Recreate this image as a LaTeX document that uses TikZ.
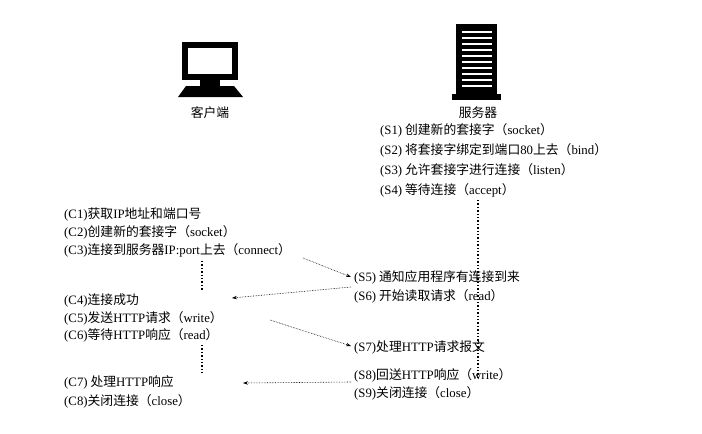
\documentclass[tikz,border=0pt]{standalone}
\usepackage{fontspec}
\setmainfont{Liberation Serif}
\newfontfamily\cjk{Noto Sans CJK SC}
\newcommand\zh[1]{{\cjk #1}}
\usetikzlibrary{arrows.meta}
\begin{document}
\begin{tikzpicture}[x=1pt,y=-1pt,
  lbl/.style={anchor=west,inner sep=0pt,font=\fontsize{12.8}{14}\selectfont},
  flow/.style={densely dotted,semithick,-{Stealth[length=5pt,width=3.5pt]}},
  life/.style={dotted,line width=1.4pt}]
\useasboundingbox[fill=white] (0,0) rectangle (702,434);
% computer icon
\fill (182,42) rectangle (238,80);
\fill[white] (188,48) rectangle (232,74);
\fill (200,80) rectangle (220,86);
\fill (186,86) -- (234,86) -- (243,97) -- (178,97) -- cycle;
\node[inner sep=0pt,font=\cjk\fontsize{12.8}{14}\selectfont] (client) at (210,113) {客户端};
% server icon
\fill (456,24) rectangle (497,94);
\fill (452,94) rectangle (501,100);
\foreach \y in {32,38,...,86} \draw[white,line width=1.2pt] (462,\y) -- (492,\y);
\node[inner sep=0pt,font=\cjk\fontsize{12.8}{14}\selectfont] (server) at (478,113) {服务器};
% server lifeline (drawn under texts)
\coordinate (sa) at (478,200); \coordinate (sb) at (478,380);
\draw[life] (sa) -- (sb);
% server text
\node[lbl] (s1) at (380,130) {(S1)\zh{ 创建新的套接字（}socket\zh{）}};
\node[lbl] (s2) at (380,150) {(S2)\zh{ 将套接字绑定到端口}80\zh{上去（}bind\zh{）}};
\node[lbl] (s3) at (380,170) {(S3)\zh{ 允许套接字进行连接（}listen\zh{）}};
\node[lbl] (s4) at (380,190) {(S4)\zh{ 等待连接（}accept\zh{）}};
\node[lbl] (s5) at (354,277) {(S5)\zh{ 通知应用程序有连接到来}};
\node[lbl] (s6) at (354,296) {(S6)\zh{ 开始读取请求（}read\zh{）}};
\node[lbl] (s7) at (354,347) {(S7)\zh{处理}HTTP\zh{请求报文}};
\node[lbl] (s8) at (354,375) {(S8)\zh{回送}HTTP\zh{响应（}write\zh{）}};
\node[lbl] (s9) at (354,393) {(S9)\zh{关闭连接（}close\zh{）}};
% client text
\node[lbl] (c1) at (64,214) {(C1)\zh{获取}IP\zh{地址和端口号}};
\node[lbl] (c2) at (64,232) {(C2)\zh{创建新的套接字（}socket\zh{）}};
\node[lbl] (c3) at (64,250) {(C3)\zh{连接到服务器}IP:port\zh{上去（}connect\zh{）}};
\node[lbl] (c4) at (64,300) {(C4)\zh{连接成功}};
\node[lbl] (c5) at (64,318) {(C5)\zh{发送}HTTP\zh{请求（}write\zh{）}};
\node[lbl] (c6) at (64,335) {(C6)\zh{等待}HTTP\zh{响应（}read\zh{）}};
\node[lbl] (c7) at (64,382) {(C7)\zh{ 处理}HTTP\zh{响应}};
\node[lbl] (c8) at (64,401) {(C8)\zh{关闭连接（}close\zh{）}};
% client lifelines
\coordinate (ca) at (202,261); \coordinate (cb) at (202,290);
\coordinate (cc) at (202,345); \coordinate (cd) at (202,373);
\draw[life] (ca) -- (cb); \draw[life] (cc) -- (cd);
% messages
\coordinate (m1a) at (303,258); \coordinate (m1b) at (351,277);
\coordinate (m2a) at (351,287); \coordinate (m2b) at (232,298);
\coordinate (m3a) at (270,320); \coordinate (m3b) at (351,346);
\coordinate (m4a) at (351,382); \coordinate (m4b) at (243,383);
\draw[flow] (m1a) -- (m1b);
\draw[flow] (m2a) -- (m2b);
\draw[flow] (m3a) -- (m3b);
\draw[flow] (m4a) -- (m4b);
\end{tikzpicture}
\end{document}
